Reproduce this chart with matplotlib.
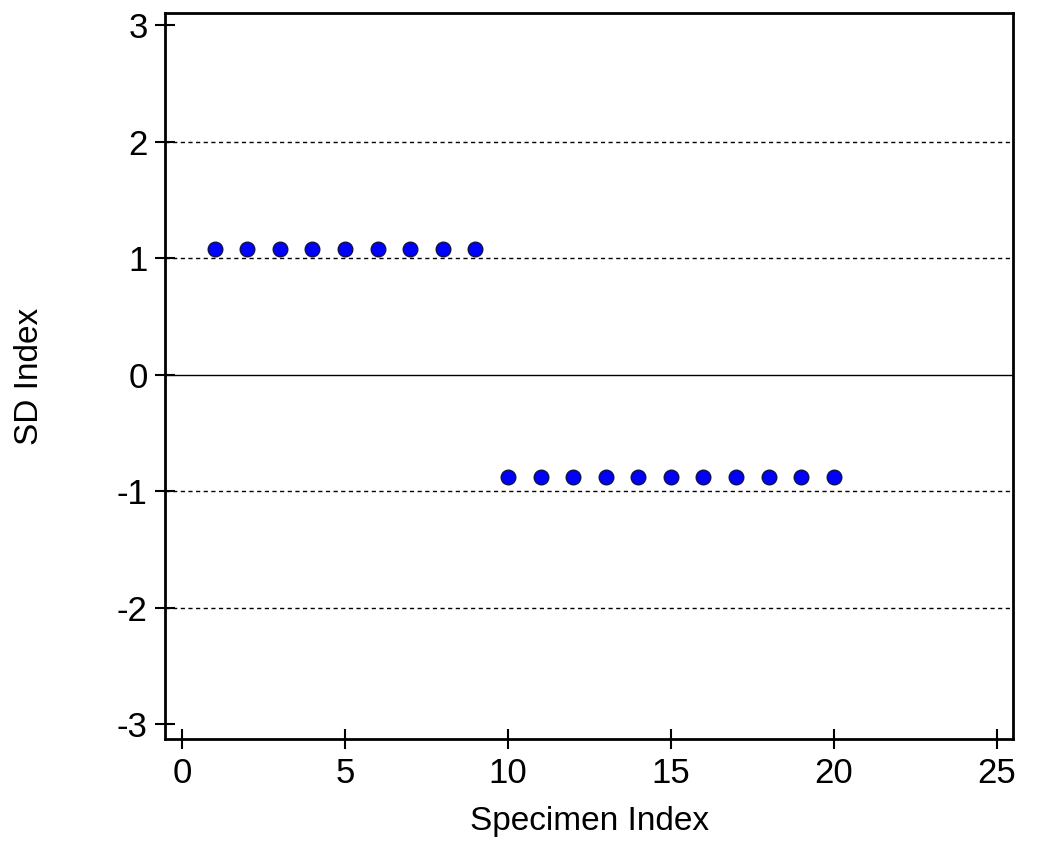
import matplotlib

matplotlib.use("Agg")
import matplotlib.pyplot as plt

# values
specimen_index = list(range(1, 21))
sd_index = [1.08] * 9 + [-0.88] * 11
ref_lines_dashed = [-2, -1, 1, 2]
ref_line_solid = 0
x_ticks = [0, 5, 10, 15, 20, 25]
y_ticks = [-3, -2, -1, 0, 1, 2, 3]

plt.rcParams["font.family"] = ["Liberation Sans", "DejaVu Sans"]
plt.rcParams["axes.unicode_minus"] = False

fig = plt.figure(figsize=(10.38, 8.41), dpi=100)
ax = fig.add_axes([0.159, 0.121, 0.817, 0.864])

for yv in ref_lines_dashed:
    ax.axhline(yv, color="black", linewidth=1.0, linestyle=(0, (3, 2.5)), zorder=1)
ax.axhline(ref_line_solid, color="black", linewidth=1.0, zorder=1)

ax.plot(specimen_index, sd_index, linestyle="none", marker="o", markersize=10.5,
        markerfacecolor="#0000ff", markeredgecolor="#10104a", markeredgewidth=1.0, zorder=3)

ax.set_xlim(-0.52, 25.5)
ax.set_ylim(-3.13, 3.11)
ax.set_xticks(x_ticks)
ax.set_yticks(y_ticks)
ax.tick_params(direction="inout", length=15, width=1.5, labelsize=25, pad=5)

for sp in ax.spines.values():
    sp.set_linewidth(2.0)

ax.set_xlabel("Specimen Index", fontsize=24, labelpad=12)
ax.set_ylabel("SD Index", fontsize=24, labelpad=52)

fig.savefig("out.png", dpi=100)
plt.close()
